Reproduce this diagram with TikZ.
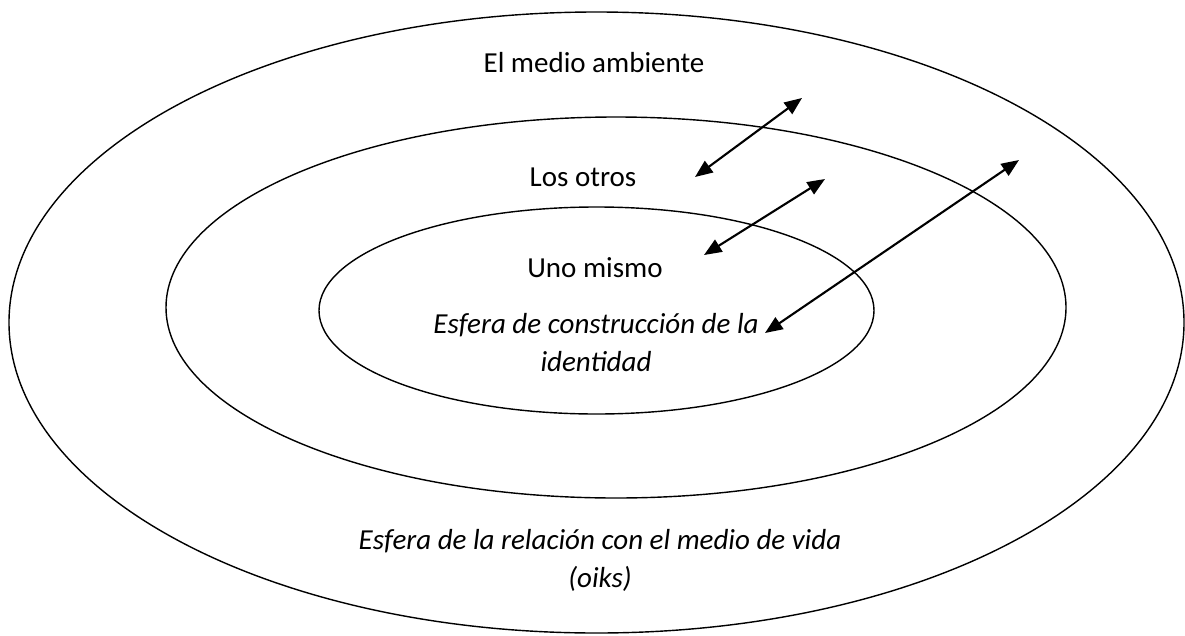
\documentclass[tikz,border=0pt]{standalone}
\usepackage{fontspec}
\setmainfont{Carlito}
\usetikzlibrary{arrows.meta}

\tikzset{
  ring/.style={line width=0.8pt},
  txt/.style={font=\fontsize{16.5}{21.6}\selectfont, inner sep=0pt, anchor=base},
  sphere/.style={txt, font=\fontsize{16.5}{21.6}\selectfont\itshape, align=center},
  exchange/.style={line width=1.2pt, {Triangle[length=10pt,width=8pt]}-{Triangle[length=10pt,width=8pt]}}
}

\begin{document}
\begin{tikzpicture}[x=0.02cm, y=-0.02cm]
    \useasboundingbox (0,0) rectangle (1185,635);

    % Rings
    \draw[ring] (596.5,322.5) ellipse [x radius=587.5, y radius=310.5];
    \draw[ring] (616,307.5) ellipse [x radius=450, y radius=190.5];
    \draw[ring] (596.5,310.5) ellipse [x radius=277.5, y radius=103.5];

    % Labels (two-line nodes sit on the baseline of their last line)
    \node[txt] (medio) at (594,72) {El medio ambiente};
    \node[txt] (otros) at (583,186) {Los otros};
    \node[txt] (mismo) at (595,277) {Uno mismo};
    \node[sphere] (identidad) at (596,371) {Esfera de construcción de la\\identidad};
    \node[sphere] (oikos) at (600,587) {Esfera de la relación con el medio de vida\\(oiks)};

    % Arrow ends
    \coordinate (a1) at (695,177);
    \coordinate (b1) at (802,98);
    \coordinate (a2) at (704,255);
    \coordinate (b2) at (825,179);
    \coordinate (a3) at (765,333);
    \coordinate (b3) at (1019,160);

    % Exchanges
    \draw[exchange] (a1) -- (b1);
    \draw[exchange] (a2) -- (b2);
    \draw[exchange] (a3) -- (b3);
\end{tikzpicture}
\end{document}
